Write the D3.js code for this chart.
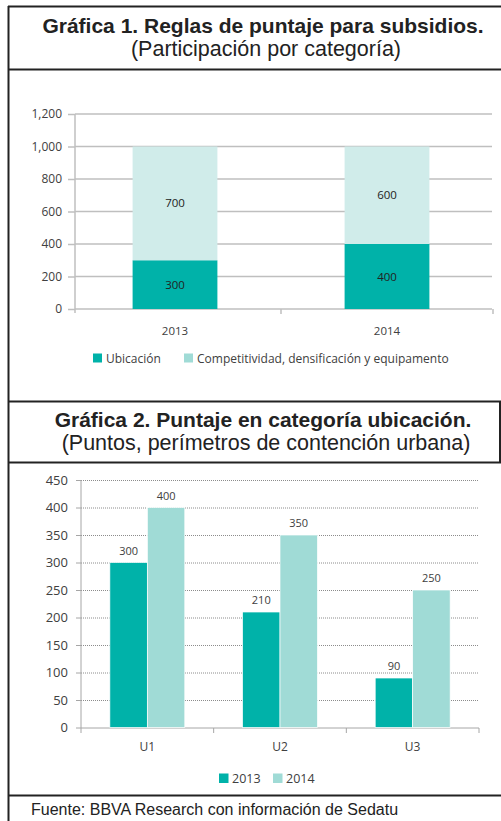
<!DOCTYPE html>
<html>
<head>
<meta charset="utf-8">
<script src="https://cdn.jsdelivr.net/npm/d3@7"></script>
<style>
  body{margin:0;background:#fff;}
  svg{display:block;}
</style>
</head>
<body>
<script>
// datos grafica 1
const years1 = ["2013", "2014"];
const ubicacion = [300, 400];
const competitividad = [700, 600];
const ticks1 = [0, 200, 400, 600, 800, 1000, 1200];
const series1 = ["Ubicación", "Competitividad, densificación y equipamento"];

// datos grafica 2
const cats2 = ["U1", "U2", "U3"];
const years2 = ["2013", "2014"];
const puntos2013 = [300, 210, 90];
const puntos2014 = [400, 350, 250];
const ticks2 = [0, 50, 100, 150, 200, 250, 300, 350, 400, 450];

const width = 501, height = 821;
const oscuro = "#00b2a9", claro1 = "#d0ecea", claro2 = "#a0dbd6";
const gris = "#404040";
const fuenteChart = "'Open Sans', sans-serif";
const fuenteTitulo = "'Liberation Sans', Arial, sans-serif";

const svg = d3.select("body").append("svg")
  .attr("width", width)
  .attr("height", height);

// marcos
const marco = svg.append("g").attr("stroke", "#222").attr("stroke-width", 2);
marco.append("line").attr("x1", 8.5).attr("x2", 8.5).attr("y1", 6).attr("y2", height);
[6.5, 69.5, 401.5, 462.5, 795.5].forEach(y => {
  marco.append("line").attr("x1", 8).attr("x2", width).attr("y1", y).attr("y2", y);
});
marco.append("line").attr("x1", 500).attr("x2", 500).attr("y1", 401).attr("y2", 463);

// titulos
function titulo(t1, t2, y) {
  svg.append("text").attr("x", 263).attr("y", y).attr("text-anchor", "middle")
    .attr("font-family", fuenteTitulo).attr("font-weight", "bold").attr("font-size", 21)
    .attr("fill", "#222").text(t1);
  svg.append("text").attr("x", 266).attr("y", y + 23).attr("text-anchor", "middle")
    .attr("font-family", fuenteTitulo).attr("font-size", 21.5)
    .attr("fill", "#222").text(t2);
}
titulo("Gráfica 1. Reglas de puntaje para subsidios.", "(Participación por categoría)", 33);
titulo("Gráfica 2. Puntaje en categoría ubicación.", "(Puntos, perímetros de contención urbana)", 427);

// ---------- grafica 1 (barras apiladas) ----------
const y1 = d3.scaleLinear().domain([0, 1200]).range([309, 114]);
const x1 = d3.scaleBand().domain(years1).range([69, 493]).paddingInner(0.6).paddingOuter(0.3);
const g1 = svg.append("g");

// grid
g1.selectAll(".grid").data(ticks1).enter().append("line")
  .attr("x1", 75).attr("x2", 492)
  .attr("y1", d => y1(d)).attr("y2", d => y1(d))
  .attr("stroke", "#bfbfbf").attr("stroke-width", 1.5);

const ejeY1 = g1.append("g").attr("transform", "translate(75,0)")
  .call(d3.axisLeft(y1).tickValues(ticks1).tickFormat(d3.format(",")).tickSize(7).tickPadding(6));
ejeY1.select(".domain").attr("stroke", "#bfbfbf").attr("stroke-width", 1.5).attr("d", "M0,114V313");
ejeY1.selectAll(".tick line").attr("stroke", "#bfbfbf").attr("stroke-width", 1.5);
ejeY1.selectAll("text").attr("font-family", fuenteChart).attr("font-size", 12).attr("fill", gris);

// ticks eje x
g1.selectAll(".xt").data(years1).enter().append("line")
  .attr("x1", d => x1(d) + x1.bandwidth() + x1.step() * 0.3)
  .attr("x2", d => x1(d) + x1.bandwidth() + x1.step() * 0.3)
  .attr("y1", 309).attr("y2", 314)
  .attr("stroke", "#bfbfbf").attr("stroke-width", 1.5);

const pilas = years1.map((a, i) => ({ año: a, u: ubicacion[i], c: competitividad[i] }));

g1.selectAll(".bu").data(pilas).enter().append("rect")
  .attr("x", d => x1(d.año)).attr("width", x1.bandwidth())
  .attr("y", d => y1(d.u)).attr("height", d => y1(0) - y1(d.u))
  .attr("fill", oscuro);
g1.selectAll(".bc").data(pilas).enter().append("rect")
  .attr("x", d => x1(d.año)).attr("width", x1.bandwidth())
  .attr("y", d => y1(d.u + d.c)).attr("height", d => y1(d.u) - y1(d.u + d.c))
  .attr("fill", claro1);

// etiquetas
g1.selectAll(".lu").data(pilas).enter().append("text")
  .attr("x", d => x1(d.año) + x1.bandwidth() / 2)
  .attr("y", d => y1(d.u / 2) + 4)
  .attr("text-anchor", "middle").attr("font-family", fuenteChart).attr("font-size", 11.5)
  .attr("fill", "#222").text(d => d.u);
g1.selectAll(".lc").data(pilas).enter().append("text")
  .attr("x", d => x1(d.año) + x1.bandwidth() / 2)
  .attr("y", d => y1(d.u + d.c / 2) + 4)
  .attr("text-anchor", "middle").attr("font-family", fuenteChart).attr("font-size", 11.5)
  .attr("fill", "#222").text(d => d.c);

g1.selectAll(".xl").data(years1).enter().append("text")
  .attr("x", d => x1(d) + x1.bandwidth() / 2).attr("y", 335)
  .attr("text-anchor", "middle").attr("font-family", fuenteChart).attr("font-size", 11.5)
  .attr("fill", gris).text(d => d);

// leyenda 1
const ley1x = [93, 184];
const ley1col = [oscuro, claro2];
series1.forEach((s, i) => {
  g1.append("rect").attr("x", ley1x[i]).attr("y", 353.5).attr("width", 9).attr("height", 9).attr("fill", ley1col[i]);
  g1.append("text").attr("x", ley1x[i] + 13).attr("y", 362.5)
    .attr("font-family", fuenteChart).attr("font-size", 12).attr("fill", gris).text(s);
});

// ---------- grafica 2 (barras agrupadas) ----------
const y2 = d3.scaleLinear().domain([0, 450]).range([727.5, 480]);
const x2 = d3.scaleBand().domain(cats2).range([81, 479]);
const x2in = d3.scaleBand().domain(years2).range([0, x2.bandwidth()]).paddingInner(0).paddingOuter(0.77);
const g2 = svg.append("g");

g2.selectAll(".grid").data(ticks2.slice(1)).enter().append("line")
  .attr("x1", 81).attr("x2", 479)
  .attr("y1", d => y2(d) + 0.5).attr("y2", d => y2(d) + 0.5)
  .attr("stroke", "#8c8c8c").attr("stroke-width", 1).attr("stroke-dasharray", "1,1");

const ejeY2 = g2.append("g").attr("transform", "translate(81,0)")
  .call(d3.axisLeft(y2).tickValues(ticks2).tickSize(5).tickPadding(8));
ejeY2.select(".domain").attr("stroke", "#a6a6a6").attr("d", "M0,480V728");
ejeY2.selectAll(".tick line").attr("stroke", "#a6a6a6");
ejeY2.selectAll("text").attr("font-family", fuenteChart).attr("font-size", 13).attr("fill", gris);

const ejeX2 = g2.append("g").attr("transform", "translate(0,728)")
  .call(d3.axisBottom(x2).tickSize(0).tickPadding(14));
ejeX2.select(".domain").attr("stroke", "#a6a6a6").attr("d", "M81,0H479");
ejeX2.selectAll("text").attr("font-family", fuenteChart).attr("font-size", 12).attr("fill", gris);
// separadores de categoria
g2.selectAll(".sep").data(cats2).enter().append("line")
  .attr("x1", d => x2(d) + x2.bandwidth()).attr("x2", d => x2(d) + x2.bandwidth())
  .attr("y1", 728).attr("y2", 733).attr("stroke", "#a6a6a6");
g2.append("line").attr("x1", 81).attr("x2", 81).attr("y1", 728).attr("y2", 733).attr("stroke", "#a6a6a6");

const grupos = cats2.map((c, i) => ({ cat: c, vals: [puntos2013[i], puntos2014[i]] }));
const colores2 = [oscuro, claro2];

const barras = g2.selectAll(".grp").data(grupos).enter().append("g")
  .attr("transform", d => `translate(${x2(d.cat)},0)`);
barras.selectAll("rect").data(d => d.vals).enter().append("rect")
  .attr("x", (v, j) => x2in(years2[j])).attr("width", x2in.bandwidth())
  .attr("y", v => y2(v)).attr("height", v => y2(0) - y2(v))
  .attr("fill", (v, j) => colores2[j]).attr("stroke", "#fff").attr("stroke-width", 0.7);
barras.selectAll("text").data(d => d.vals).enter().append("text")
  .attr("x", (v, j) => x2in(years2[j]) + x2in.bandwidth() / 2)
  .attr("y", v => y2(v) - 8)
  .attr("text-anchor", "middle").attr("font-family", fuenteChart).attr("font-size", 11)
  .attr("fill", gris).text(v => v);

// leyenda 2
const ley2x = [219, 273];
years2.forEach((s, i) => {
  g2.append("rect").attr("x", ley2x[i]).attr("y", 773.5).attr("width", 9.5).attr("height", 9.5).attr("fill", colores2[i]);
  g2.append("text").attr("x", ley2x[i] + 13).attr("y", 783)
    .attr("font-family", fuenteChart).attr("font-size", 12.5).attr("fill", gris).text(s);
});

// fuente
svg.append("text").attr("x", 31).attr("y", 815)
  .attr("font-family", fuenteTitulo).attr("font-size", 16).attr("fill", "#222")
  .text("Fuente: BBVA Research con información de Sedatu");
</script>
</body>
</html>
